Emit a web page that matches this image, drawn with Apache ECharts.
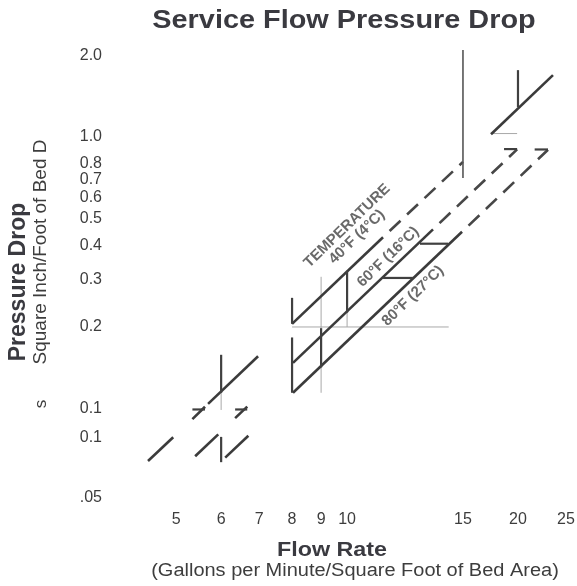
<!DOCTYPE html>
<html>
<head>
<meta charset="utf-8">
<script src="https://cdn.jsdelivr.net/npm/echarts@6/dist/echarts.min.js"></script>
<style>
  html, body { margin: 0; padding: 0; background: #fff; }
  #chart { width: 577px; height: 586px; }
</style>
</head>
<body>
<div id="chart"></div>
<script>
// axis ranges (flow rate gpm/sq ft, pressure drop)
const xMin = 4.3, xMax = 25
const yMin = 0.045, yMax = 2.2

// tick labels as they sit on the printed chart
const xTickPos = [5, 6, 7, 8, 9, 10, 16, 20, 24.3]
const xTickText = ['5', '6', '7', '8', '9', '10', '15', '20', '25']
const yTickPos = [2, 1, 0.8, 0.7, 0.6, 0.5, 0.4, 0.3, 0.2, 0.1, 0.078, 0.047]
const yTickText = ['2.0', '1.0', '0.8', '0.7', '0.6', '0.5', '0.4', '0.3', '0.2', '0.1', '0.1', '.05']

// temperature curves, [flow, pressure] pairs per drawn piece
const t40Solid = [
  [[4.46, 0.0642], [4.94, 0.0786]],
  [[5.34, 0.0916], [5.62, 0.1017]],
  [[5.69, 0.1042], [6.97, 0.1561]],
  [[8.0, 0.2054], [11.57, 0.428]],
  [[17.93, 1.024], [23.05, 1.69]]
]
const t40Dashed = [[[11.57, 0.428], [16.0, 0.81]]]

const t60Solid = [
  [[5.40, 0.0669], [5.93, 0.0805]],
  [[6.35, 0.0924], [6.67, 0.1018]],
  [[8.03, 0.1476], [14.17, 0.4574]]
]
const t60Dashed = [[[14.17, 0.4574], [19.93, 0.901]]]

const t80Solid = [
  [[6.10, 0.0661], [6.70, 0.0796]],
  [[8.03, 0.1145], [15.94, 0.448]]
]
const t80Dashed = [[[15.94, 0.448], [22.59, 0.898]]]

// heavy verticals / connectors
const darkMarks = [
  [[6, 0.158], [6, 0.1145]],
  [[6, 0.0788], [6, 0.0636]],
  [[8, 0.256], [8, 0.2054]],
  [[8, 0.183], [8, 0.1145]],
  [[9, 0.198], [9, 0.142]],
  [[10, 0.322], [10, 0.226]],
  [[20, 1.763], [20, 1.289]],
  [[11.57, 0.303], [13.06, 0.303]],
  [[13.44, 0.405], [15.06, 0.405]],
  [[5.34, 0.0994], [5.62, 0.0994]],
  [[6.35, 0.0994], [6.67, 0.0994]],
  [[18.9, 0.903], [19.93, 0.903]],
  [[21.4, 0.9], [22.59, 0.9]]
]
const midMarks = [
  [[16, 2.09], [16, 0.707]]
]
// faint guide lines
const thinMarks = [
  [[6, 0.1145], [6, 0.099]],
  [[9, 0.306], [9, 0.198]],
  [[9, 0.142], [9, 0.1145]],
  [[10, 0.226], [10, 0.2]],
  [[8, 0.2], [15.1, 0.2]],
  [[17.93, 1.03], [19.93, 1.03]]
]

const notes = [
  { name: 'TEMPERATURE', value: [10.0, 0.471] },
  { name: '40°F (4°C)', value: [10.41, 0.429] },
  { name: '60°F (16°C)', value: [11.81, 0.362] },
  { name: '80°F (27°C)', value: [13.06, 0.260] }
]

const FONT = '"Liberation Sans", Arial, sans-serif'
const solidStyle = { color: '#3b3b3b', width: 2.6 }
const dashStyle = { color: '#474747', width: 2.6, type: [15, 9], dashOffset: 15 }
const darkStyle = { color: '#404040', width: 2.2 }
const midStyle = { color: '#555', width: 1.6 }
const thinStyle = { color: '#a8a8a8', width: 1 }

const chart = echarts.init(document.getElementById('chart'))

const series = []
const addPieces = (pieces, style) => {
  pieces.forEach(p => {
    series.push({
      type: 'line',
      xAxisIndex: 0,
      yAxisIndex: 0,
      data: p,
      symbol: 'none',
      silent: true,
      lineStyle: style,
      z: style === thinStyle ? 1 : 3
    })
  })
}
addPieces(thinMarks, thinStyle)
addPieces(t40Solid, solidStyle)
addPieces(t60Solid, solidStyle)
addPieces(t80Solid, solidStyle)
addPieces(t40Dashed, dashStyle)
addPieces(t60Dashed, dashStyle)
addPieces(t80Dashed, dashStyle)
addPieces(darkMarks, darkStyle)
addPieces(midMarks, midStyle)

series.push({
  type: 'scatter',
  xAxisIndex: 0,
  yAxisIndex: 0,
  symbolSize: 0,
  silent: true,
  data: notes,
  label: {
    show: true,
    position: 'inside',
    rotate: 44,
    formatter: '{b}',
    fontFamily: FONT,
    fontWeight: 'bold',
    fontSize: 15,
    color: '#444'
  },
  z: 5
})

const tickLabel = (pos, text) => (v) => {
  const i = pos.findIndex(p => Math.abs(Math.log10(p) - v) < 1e-6)
  return i >= 0 ? text[i] : ''
}

const hiddenAxis = {
  axisLine: { show: false, onZero: false },
  axisTick: { show: false },
  splitLine: { show: false },
  axisLabel: { show: false }
}

const option = {
  backgroundColor: '#fff',
  animation: false,
  grid: { left: 139, right: 4, top: 44, bottom: 83, outerBoundsMode: 'none' },
  xAxis: [
    Object.assign({ type: 'log', min: xMin, max: xMax }, hiddenAxis),
    {
      type: 'value',
      position: 'bottom',
      min: Math.log10(xMin),
      max: Math.log10(xMax),
      axisLine: { show: false, onZero: false },
      axisTick: { show: false },
      splitLine: { show: false },
      axisLabel: {
        customValues: xTickPos.map(Math.log10),
        formatter: tickLabel(xTickPos, xTickText),
        margin: 9,
        fontFamily: FONT,
        fontSize: 16,
        color: '#3d3d3d',
        hideOverlap: false
      }
    }
  ],
  yAxis: [
    Object.assign({ type: 'log', min: yMin, max: yMax }, hiddenAxis),
    {
      type: 'value',
      position: 'left',
      min: Math.log10(yMin),
      max: Math.log10(yMax),
      axisLine: { show: false, onZero: false },
      axisTick: { show: false },
      splitLine: { show: false },
      axisLabel: {
        customValues: yTickPos.map(Math.log10),
        formatter: tickLabel(yTickPos, yTickText),
        margin: 37,
        fontFamily: FONT,
        fontSize: 16,
        color: '#3d3d3d',
        hideOverlap: false
      }
    }
  ],
  graphic: [
    {
      type: 'text', x: 344, y: 21, scaleX: 1.11,
      style: { text: 'Service Flow Pressure Drop', font: 'bold 26px ' + FONT, fill: '#3a3a40', align: 'center', verticalAlign: 'middle' }
    },
    {
      type: 'text', x: 332, y: 550, scaleX: 1.11,
      style: { text: 'Flow Rate', font: 'bold 21px ' + FONT, fill: '#3a3a40', align: 'center', verticalAlign: 'middle' }
    },
    {
      type: 'text', x: 355, y: 571, scaleX: 1.11,
      style: { text: '(Gallons per Minute/Square Foot of Bed Area)', font: '18px ' + FONT, fill: '#3d3d3d', align: 'center', verticalAlign: 'middle' }
    },
    {
      type: 'text', x: 19, y: 282, rotation: Math.PI / 2,
      style: { text: 'Pressure Drop', font: 'bold 23px ' + FONT, fill: '#3a3a40', align: 'center', verticalAlign: 'middle' }
    },
    {
      type: 'text', x: 41, y: 252, rotation: Math.PI / 2,
      style: { text: 'Square Inch/Foot of Bed D', font: '19px ' + FONT, fill: '#3d3d3d', align: 'center', verticalAlign: 'middle' }
    },
    {
      type: 'text', x: 41, y: 404, rotation: Math.PI / 2,
      style: { text: 's', font: '17px ' + FONT, fill: '#3d3d3d', align: 'center', verticalAlign: 'middle' }
    }
  ],
  series: series
}

chart.setOption(option)
</script>
</body>
</html>
